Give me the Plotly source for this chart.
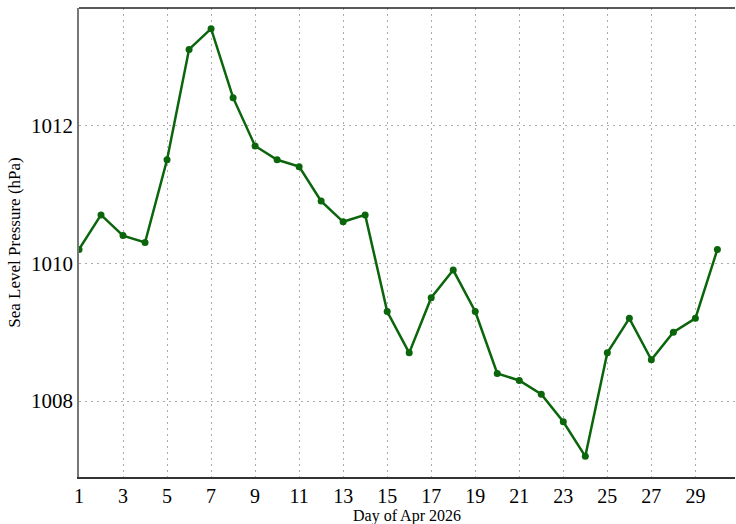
import plotly.graph_objects as go

days = list(range(1, 31))
pressure = [1010.2, 1010.7, 1010.4, 1010.3, 1011.5, 1013.1, 1013.4, 1012.4, 1011.7, 1011.5,
            1011.4, 1010.9, 1010.6, 1010.7, 1009.3, 1008.7, 1009.5, 1009.9, 1009.3, 1008.4,
            1008.3, 1008.1, 1007.7, 1007.2, 1008.7, 1009.2, 1008.6, 1009.0, 1009.2, 1010.2]
x_ticks = list(range(1, 30, 2))
y_ticks = [1008, 1010, 1012]

fig = go.Figure()
fig.add_trace(go.Scatter(
    x=days, y=pressure, mode="lines+markers",
    line=dict(color="#0b650b", width=2.5),
    marker=dict(color="#0b650b", size=7),
    showlegend=False,
))

font = "Liberation Serif, Times New Roman, serif"
fig.update_layout(
    width=736, height=524,
    margin=dict(l=79, r=1, t=8, b=47),
    paper_bgcolor="white", plot_bgcolor="white",
    font=dict(family=font, color="black"),
    xaxis=dict(
        range=[1, 30.8], tickvals=x_ticks, ticktext=[str(t) for t in x_ticks],
        showgrid=True, gridcolor="#aaaaaa", griddash="2px,4px", gridwidth=1.3,
        showline=True, linecolor="#333", linewidth=1.5,
        ticks="", zeroline=False, tickfont=dict(size=20),
    ),
    yaxis=dict(
        range=[1006.9, 1013.7], tickvals=y_ticks, ticktext=[str(t) for t in y_ticks],
        showgrid=True, gridcolor="#aaaaaa", griddash="2px,4px", gridwidth=1.3,
        showline=True, linecolor="#777", linewidth=1.5,
        ticks="", zeroline=False, tickfont=dict(size=21),
        title=dict(text="Sea Level Pressure (hPa)", font=dict(size=17), standoff=6),
    ),
    annotations=[dict(
        text="Day of Apr 2026", xref="paper", yref="paper", x=0.5, y=-0.083,
        xanchor="center", yanchor="middle", showarrow=False,
        font=dict(size=16, family=font, color="black"),
    )],
)
fig.add_shape(type="line", xref="paper", yref="paper", x0=0, x1=1, y0=1, y1=1,
              line=dict(color="#222", width=1.5))
fig.write_html("out.html", config={"displayModeBar": False},
               post_script="document.body.style.margin='0';")
